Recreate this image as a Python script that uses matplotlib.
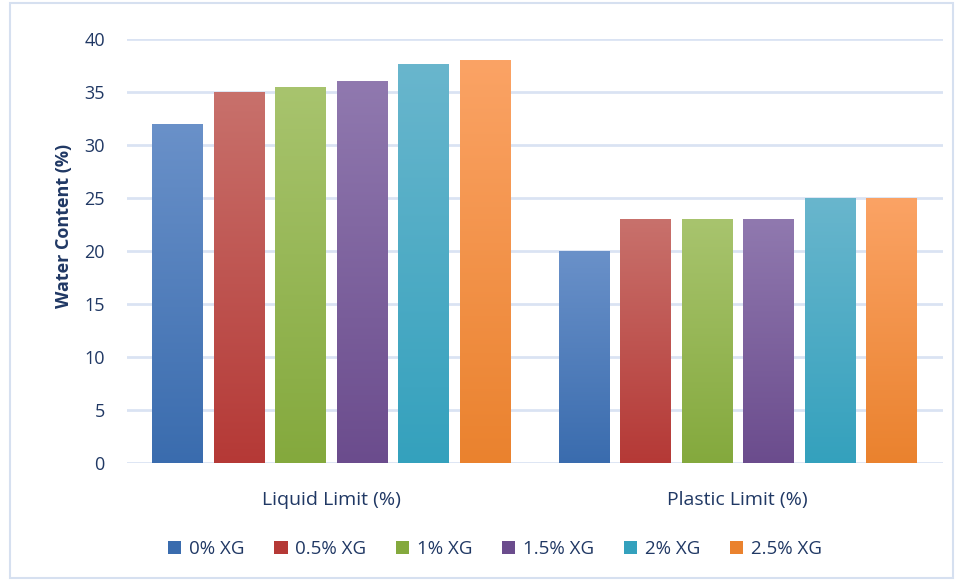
import matplotlib
matplotlib.use("Agg")
import matplotlib.pyplot as plt
import numpy as np
from matplotlib.colors import LinearSegmentedColormap
from matplotlib.patches import Rectangle

categories = ["Liquid Limit (%)", "Plastic Limit (%)"]
series = ["0% XG", "0.5% XG", "1% XG", "1.5% XG", "2% XG", "2.5% XG"]
values = [
    [32, 20],
    [35, 23],
    [35.5, 23],
    [36, 23],
    [37.6, 25],
    [38, 25],
]
yticks = [0, 5, 10, 15, 20, 25, 30, 35, 40]

top_colors = ["#6A91C9", "#C8716C", "#A8C46E", "#9079AF", "#69B6CD", "#FBA365"]
bot_colors = ["#3A6CAE", "#B53936", "#84A93D", "#6B4C8D", "#34A1BD", "#EA822E"]

plt.rcParams['font.family'] = ['Open Sans', 'DejaVu Sans']
txt = "#203864"

fig = plt.figure(figsize=(9.63, 5.81), dpi=100)
ax = fig.add_axes([127/963, 1-463/581, (943-127)/963, (463-39)/581])

# outer border
fig.patches.append(Rectangle((10/963, 3/581), (953-10)/963, (578-3)/581,
                             transform=fig.transFigure, fill=False,
                             edgecolor="#D6E0F0", linewidth=1.5))

slot = 0.1513
width = 0.124
x = np.arange(len(categories))
n = len(series)
grad = np.linspace(0, 1, 256).reshape(-1, 1)
for i, (name, vals) in enumerate(zip(series, values)):
    offs = (i - (n - 1) / 2) * slot
    bars = ax.bar(x + offs, vals, width, color="none", label=name, zorder=3)
    cmap = LinearSegmentedColormap.from_list("g%d" % i, [bot_colors[i], top_colors[i]])
    for b in bars:
        bx, by = b.get_x(), b.get_y()
        bw, bh = b.get_width(), b.get_height()
        im = ax.imshow(grad, cmap=cmap, aspect="auto", origin="lower",
                       extent=[bx, bx + bw, by, by + bh], zorder=3)
        im.set_clip_path(b)

ax.set_xlim(-0.502, 1.5055)
ax.set_ylim(0, 40)
ax.set_yticks(yticks)
ax.set_xticks(x)
ax.set_xticklabels(categories)
ax.grid(axis="y", color="#DAE3F3", linewidth=2, zorder=0)
ax.set_axisbelow(True)
for s in ["top", "right", "left", "bottom"]:
    ax.spines[s].set_visible(False)
ax.tick_params(axis="both", length=0, colors=txt, labelsize=13)
ax.tick_params(axis="y", pad=16)
ax.tick_params(axis="x", pad=20)
for lbl in ax.get_xticklabels():
    lbl.set_fontsize(14)
ax.set_ylabel("Water Content (%)", fontsize=13, fontweight="bold", color=txt)
ax.yaxis.set_label_coords(-0.066, 0.559)

handles = []
for i in range(n):
    handles.append(Rectangle((0, 0), 1, 1, facecolor=bot_colors[i]))
leg = fig.legend(handles, series, loc="center", bbox_to_anchor=(495/963, 1-549/581),
                 ncol=n, frameon=False, fontsize=13.5, handlelength=0.7, handleheight=0.7,
                 handletextpad=0.4, columnspacing=1.6)
for t in leg.get_texts():
    t.set_color(txt)

fig.savefig("out.png", dpi=100)
